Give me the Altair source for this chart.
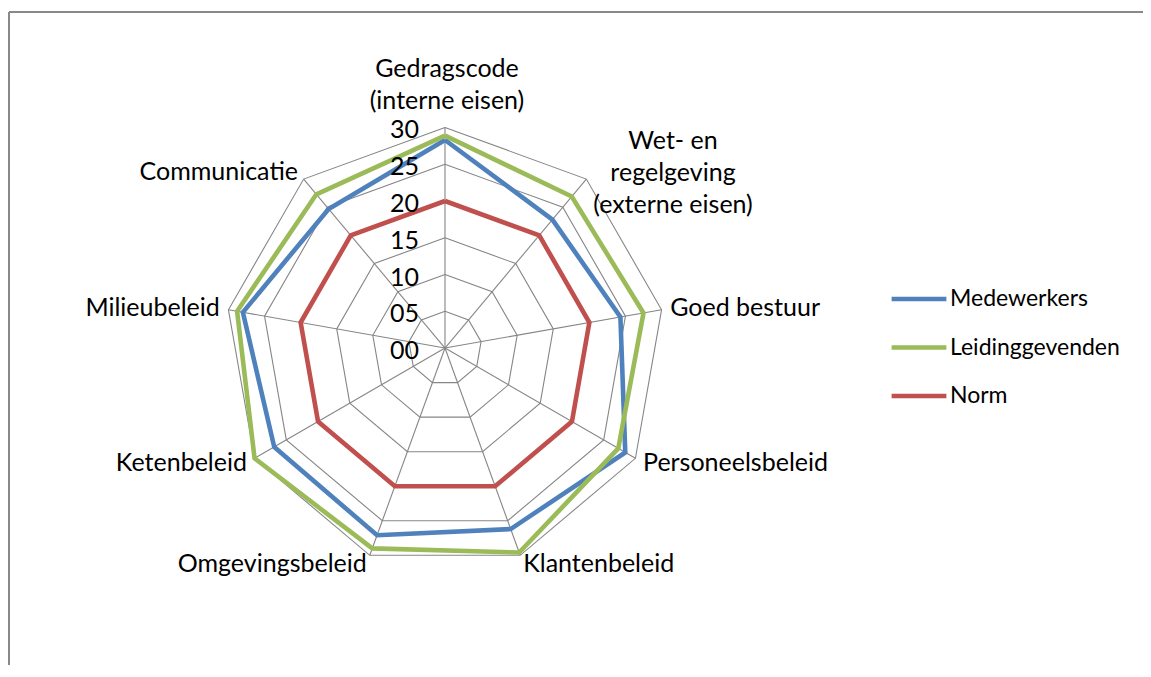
import altair as alt
import pandas as pd

# ---------------- data ----------------
categories = [
    "Gedragscode\n(interne eisen)",
    "Wet- en\nregelgeving\n(externe eisen)",
    "Goed bestuur",
    "Personeelsbeleid",
    "Klantenbeleid",
    "Omgevingsbeleid",
    "Ketenbeleid",
    "Milieubeleid",
    "Communicatie",
]
series_names = ["Medewerkers", "Leidinggevenden", "Norm"]
medewerkers = [28.3, 22.8, 24.3, 28.4, 26.2, 27.1, 26.9, 28.0, 24.7]
leidinggevenden = [28.9, 26.9, 27.5, 27.3, 29.6, 29.0, 30.0, 28.8, 27.3]
norm = [20, 20, 20, 20, 20, 20, 20, 20, 20]
tick_values = [0, 5, 10, 15, 20, 25, 30]
tick_labels = ["00", "05", "10", "15", "20", "25", "30"]
colors = ["#4F81BD", "#9BBB59", "#C0504D"]

N = len(categories)
RMAX = tick_values[-1]
FONT = "Lato"
FS = 25

# ---------------- tables ----------------
rows = []
for name, vals in zip(series_names, [medewerkers, leidinggevenden, norm]):
    for i in range(N + 1):
        rows.append({"series": name, "order": i, "value": vals[i % N]})
series_df = pd.DataFrame(rows)

ring_rows = []
for r in tick_values[1:]:
    for i in range(N + 1):
        ring_rows.append({"ring": r, "order": i, "value": r})
ring_df = pd.DataFrame(ring_rows)

spoke_df = pd.DataFrame({"order": list(range(N)), "value": [RMAX] * N})
tick_df = pd.DataFrame({"value": tick_values, "label": tick_labels})
cat_df = pd.DataFrame({"order": list(range(N)), "label": categories})

ANG = f"datum.order * 2 * PI / {N}"
xs = alt.Scale(domain=[-59.62, 95.23], nice=False, zero=False)
ys = alt.Scale(domain=[-43.11, 46.25], nice=False, zero=False)


def polar(chart, rexpr="datum.value"):
    return chart.transform_calculate(
        ang=ANG
    ).transform_calculate(
        px=f"({rexpr}) * sin(datum.ang)", py=f"({rexpr}) * cos(datum.ang)"
    )


X = alt.X("px:Q", scale=xs, axis=None)
Y = alt.Y("py:Q", scale=ys, axis=None)

rings = polar(alt.Chart(ring_df)).mark_line(
    color="#868686", strokeWidth=1.1
).encode(x=X, y=Y, detail="ring:N", order="order:Q")

spokes = polar(alt.Chart(spoke_df)).transform_calculate(
    zx="0", zy="0"
).mark_rule(color="#868686", strokeWidth=1.1).encode(
    x=alt.X("zx:Q", scale=xs, axis=None),
    y=alt.Y("zy:Q", scale=ys, axis=None),
    x2="px:Q",
    y2="py:Q",
)

lines = polar(alt.Chart(series_df)).mark_line(strokeWidth=4.6).encode(
    x=X,
    y=Y,
    order="order:Q",
    color=alt.Color(
        "series:N",
        scale=alt.Scale(domain=series_names, range=colors),
        sort=series_names,
        legend=alt.Legend(
            title=None,
            orient="none",
            legendX=881,
            legendY=268,
            symbolType="stroke",
            symbolSize=3000,
            symbolStrokeWidth=4.6,
            labelFont=FONT,
            labelFontSize=23,
            labelColor="#000000",
            labelOffset=1,
            labelLimit=400,
            clipHeight=46,
            rowPadding=2.5,
        ),
    ),
)

ticks = alt.Chart(tick_df).transform_calculate(zx="0").mark_text(
    align="right", baseline="middle", dx=-26, dy=3, font=FONT, fontSize=FS, color="#000000"
).encode(
    x=alt.X("zx:Q", scale=xs, axis=None),
    y=alt.Y("value:Q", scale=ys, axis=None),
    text="label:N",
)

LR = RMAX + 1.2
cat_base = polar(alt.Chart(cat_df), str(LR))
common = dict(font=FONT, fontSize=FS, color="#000000", lineBreak="\n", lineHeight=32)
lab_top = cat_base.transform_filter("datum.order == 0").mark_text(
    align="center", baseline="bottom", dy=-37, dx=2, **common
).encode(x=X, y=Y, text="label:N")
lab_wet = cat_base.transform_filter("datum.order == 1").mark_text(
    align="center", baseline="middle", dx=81, dy=-31, **common
).encode(x=X, y=Y, text="label:N")
lab_right = cat_base.transform_filter("datum.order >= 2 && datum.order <= 4").mark_text(
    align="left", baseline="middle", **common
).encode(x=X, y=Y, text="label:N")
lab_left = cat_base.transform_filter("datum.order >= 5").mark_text(
    align="right", baseline="middle", **common
).encode(x=X, y=Y, text="label:N")

one = pd.DataFrame({"a": [0]})
border_top = alt.Chart(one).mark_rule(color="#898989", strokeWidth=2).encode(
    x=alt.value(1), x2=alt.value(1200), y=alt.value(4)
)
border_left = alt.Chart(one).mark_rule(color="#898989", strokeWidth=2).encode(
    x=alt.value(1), y=alt.value(4), y2=alt.value(800)
)

chart = alt.layer(
    border_top, border_left, rings, spokes, lines, ticks,
    lab_top, lab_wet, lab_right, lab_left,
).properties(
    width=1135, height=657, autosize=alt.AutoSizeParams(type="none"), padding=0,
    background="#ffffff",
).configure_view(stroke=None)

chart.save("out.html", embed_options={"renderer": "svg", "actions": False})
